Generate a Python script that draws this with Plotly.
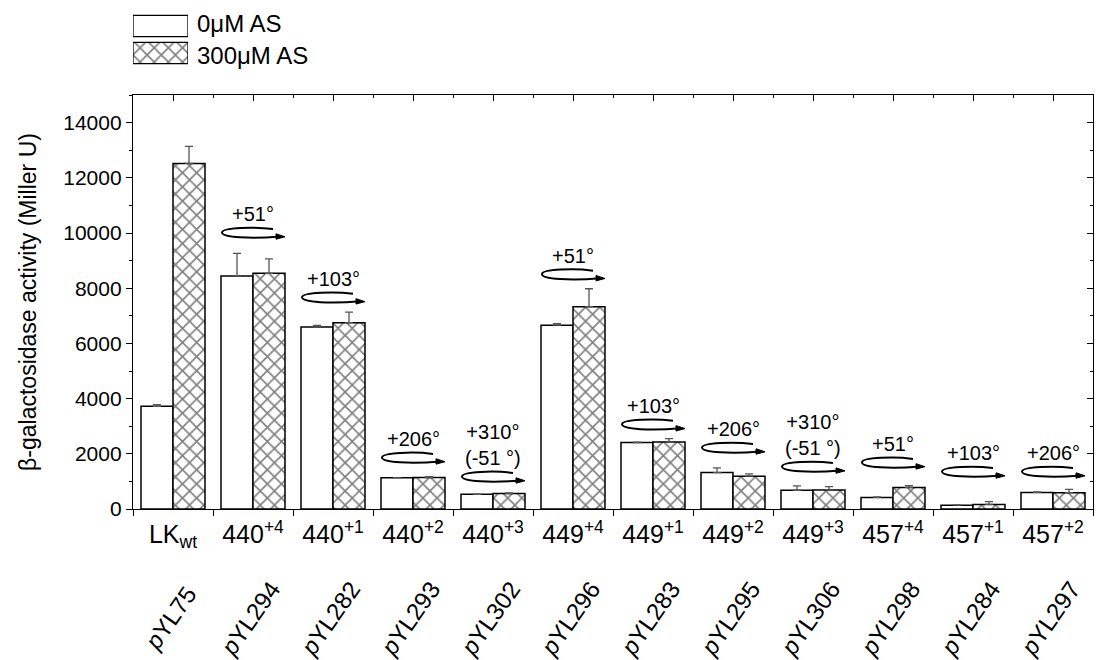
import plotly.graph_objects as go

# Strains / constructs
cat_keys = ["LKwt", "440+4", "440+1", "440+2", "440+3", "449+4",
            "449+1", "449+2", "449+3", "457+4", "457+1", "457+2"]
cat_labels = ["LK<sub>wt</sub>", "440<sup>+4</sup>", "440<sup>+1</sup>", "440<sup>+2</sup>",
              "440<sup>+3</sup>", "449<sup>+4</sup>", "449<sup>+1</sup>", "449<sup>+2</sup>",
              "449<sup>+3</sup>", "457<sup>+4</sup>", "457<sup>+1</sup>", "457<sup>+2</sup>"]
plasmids = ["pYL75", "pYL294", "pYL282", "pYL293", "pYL302", "pYL296",
            "pYL283", "pYL295", "pYL306", "pYL298", "pYL284", "pYL297"]

# beta-galactosidase activity (Miller units) and upper error
as0_vals = [3720, 8440, 6590, 1130, 530, 6660, 2410, 1320, 680, 420, 140, 600]
as0_err = [60, 820, 60, 10, 10, 60, 10, 170, 160, 20, 10, 20]
as300_vals = [12520, 8540, 6750, 1140, 560, 7330, 2430, 1190, 690, 780, 165, 590]
as300_err = [620, 520, 380, 30, 20, 650, 120, 80, 120, 70, 100, 120]

# Helix rotation introduced by each insertion
rot_index = [1, 2, 3, 4, 5, 6, 7, 8, 9, 10, 11]
rot_text = ["+51°", "+103°", "+206°", "+310°<br>(-51 °)", "+51°", "+103°",
            "+206°", "+310°<br>(-51 °)", "+51°", "+103°", "+206°"]
rot_level = [10000, 7650, 1850, 1160, 8490, 3050, 2210, 1520, 1670, 1340, 1340]

FONT = "Liberation Sans, Arial, sans-serif"
n = len(cat_keys)
W, H = 1099, 660
ML, MR, MT, MB = 133, 6, 5, 151
plot_h = H - MT - MB
main_top = (509 - 95) / plot_h

fig = go.Figure()

fig.add_trace(go.Bar(
    x=cat_keys, y=as0_vals, name="0μM AS",
    marker=dict(color="white", line=dict(color="black", width=1.5)),
    error_y=dict(type="data", symmetric=False, array=as0_err,
                 arrayminus=[0] * n, color="#555555", thickness=1.3, width=4),
))
fig.add_trace(go.Bar(
    x=cat_keys, y=as300_vals, name="300μM AS",
    marker=dict(color="white", line=dict(color="black", width=1.5),
                pattern=dict(shape="x", fgcolor="black", bgcolor="white",
                             size=10, solidity=0.3)),
    error_y=dict(type="data", symmetric=False, array=as300_err,
                 arrayminus=[0] * n, color="#555555", thickness=1.3, width=4),
))

# Invisible trace that carries the mirrored (top / right) tick axes
fig.add_trace(go.Scatter(x=[0], y=[0], xaxis="x3", yaxis="y2", mode="markers",
                         marker=dict(opacity=0), hoverinfo="skip", showlegend=False))

# Legend swatches drawn as bars on a tiny axis pair
fig.add_trace(go.Bar(
    x=[1], y=[1], base=[0], orientation="h", width=0.79, xaxis="x4", yaxis="y4",
    marker=dict(color="white", line=dict(color="black", width=1.3)),
    hoverinfo="skip", showlegend=False))
fig.add_trace(go.Bar(
    x=[1], y=[0], base=[0], orientation="h", width=0.79, xaxis="x4", yaxis="y4",
    marker=dict(color="white", line=dict(color="black", width=1.3),
                pattern=dict(shape="x", fgcolor="black", bgcolor="white",
                             size=10, solidity=0.3)),
    hoverinfo="skip", showlegend=False))

def py(ypix):
    return (509 - ypix) / plot_h

annotations = [
    dict(text="0μM AS", x=(195 - ML) / (W - ML - MR), y=py(24), xref="paper", yref="paper",
         xanchor="left", yanchor="middle", showarrow=False, font=dict(size=24, color="black")),
    dict(text="300μM AS", x=(195 - ML) / (W - ML - MR), y=py(56), xref="paper", yref="paper",
         xanchor="left", yanchor="middle", showarrow=False, font=dict(size=24, color="black")),
]
for i, p in enumerate(plasmids):
    annotations.append(dict(
        text="<i>p</i>" + p[1:], x=i, y=py(618), xref="x3", yref="paper",
        xanchor="center", yanchor="middle", textangle=-55, showarrow=False,
        xshift=-3, font=dict(size=24, color="black")))

shapes = []
loop_path = "M 20 4 C 2 6.5 -31 5.5 -31 0.5 C -31 -4.5 -2 -6 27 -3.5"
head_path = "M 23 -0.8 L 32 -3.8 L 23 -6.2 Z"
for ci, txt, lvl in zip(rot_index, rot_text, rot_level):
    annotations.append(dict(
        text=txt, x=ci, y=lvl, xref="x3", yref="y", xanchor="center", yanchor="bottom",
        yshift=6, showarrow=False, font=dict(size=20, color="black")))
    shapes.append(dict(type="path", xref="x3", yref="y", xsizemode="pixel", ysizemode="pixel",
                       xanchor=ci, yanchor=lvl, path=loop_path,
                       line=dict(color="black", width=2)))
    shapes.append(dict(type="path", xref="x3", yref="y", xsizemode="pixel", ysizemode="pixel",
                       xanchor=ci, yanchor=lvl, path=head_path,
                       line=dict(color="black", width=1), fillcolor="black"))

fig.update_layout(
    width=W, height=H,
    margin=dict(l=ML, r=MR, t=MT, b=MB),
    paper_bgcolor="white", plot_bgcolor="white",
    font=dict(family=FONT, color="black"),
    barmode="group", bargap=0.2, bargroupgap=0,
    showlegend=False,
    xaxis=dict(
        type="category", categoryorder="array", categoryarray=cat_keys,
        range=[-0.5, n - 0.5], tickvals=cat_keys, ticktext=cat_labels,
        tickson="boundaries", ticks="outside", ticklen=6, tickwidth=1.3, tickcolor="black",
        showline=True, linewidth=1.3, linecolor="black", mirror=True,
        showgrid=False, tickfont=dict(size=25), ticklabelstandoff=3, anchor="y",
    ),
    yaxis=dict(
        domain=[0, main_top], range=[0, 15000], dtick=2000, tick0=0, tickformat="d",
        ticks="outside", ticklen=6, tickwidth=1.3, tickcolor="black",
        minor=dict(dtick=1000, ticks="outside", ticklen=3, tickwidth=1.3, tickcolor="black"),
        showline=True, linewidth=1.3, linecolor="black", mirror=True,
        showgrid=False, zeroline=False, tickfont=dict(size=21),
        title=dict(text="β-galactosidase activity (Miller U)", font=dict(size=23), standoff=20),
        anchor="x",
    ),
    xaxis3=dict(
        overlaying="x", side="top", range=[-0.5, n - 0.5], anchor="y2",
        tickvals=list(range(n)), ticks="inside", ticklen=6, tickwidth=1.3, tickcolor="black",
        minor=dict(tickvals=[i - 0.5 for i in range(n + 1)], ticks="inside", ticklen=3,
                   tickwidth=1.3, tickcolor="black"),
        showticklabels=False, showgrid=False, zeroline=False, showline=False,
    ),
    yaxis2=dict(
        overlaying="y", side="right", range=[0, 15000], anchor="x3",
        dtick=2000, tick0=0, ticks="inside", ticklen=6, tickwidth=1.3, tickcolor="black",
        minor=dict(dtick=1000, ticks="inside", ticklen=3, tickwidth=1.3, tickcolor="black"),
        showticklabels=False, showgrid=False, zeroline=False, showline=False,
    ),
    xaxis4=dict(domain=[0, 55 / (W - ML - MR)], range=[0, 1], visible=False,
                anchor="y4", fixedrange=True),
    yaxis4=dict(domain=[py(66.5), py(12.5)], range=[-0.5, 1.5], visible=False,
                anchor="x4", fixedrange=True),
    annotations=annotations,
    shapes=shapes,
)

fig.write_html("out.html")
